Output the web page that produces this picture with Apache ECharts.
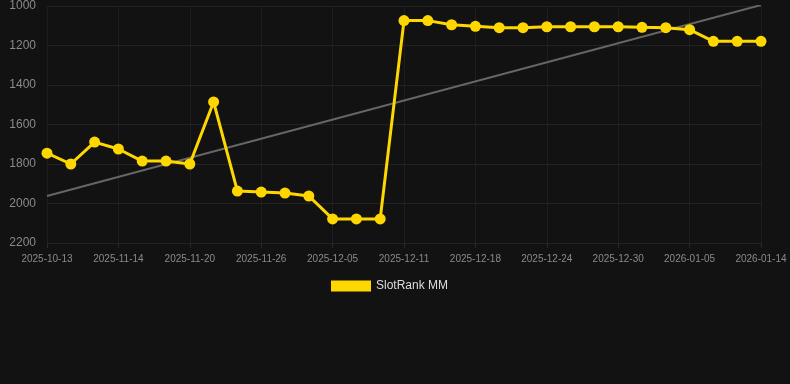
<!DOCTYPE html>
<html><head><meta charset="utf-8">
<script src="https://cdn.jsdelivr.net/npm/echarts@6/dist/echarts.min.js"></script>
<style>html,body{margin:0;padding:0;background:#121212;}#c{width:790px;height:384px;}</style>
</head><body><div id="c"></div>
<script>
const categories = ["2025-10-13","2025-10-16","2025-11-08","2025-11-14","2025-11-15","2025-11-17","2025-11-20","2025-11-21","2025-11-23","2025-11-26","2025-11-28","2025-12-02","2025-12-05","2025-12-06","2025-12-09","2025-12-11","2025-12-12","2025-12-15","2025-12-18","2025-12-20","2025-12-22","2025-12-24","2025-12-26","2025-12-28","2025-12-30","2026-01-01","2026-01-03","2026-01-05","2026-01-08","2026-01-11","2026-01-14"];
const rankValues = [1745,1800,1689,1724,1785,1785,1800,1486,1937,1942,1947,1962,2078,2078,2078,1074,1074,1095,1103,1110,1110,1105,1105,1105,1105,1108,1110,1120,1179,1179,1179];
const trendStart = 1962;
const trendEnd = 995;
const yTicks = [1000,1200,1400,1600,1800,2000,2200];

const trendData = categories.map((c,i)=> i===0 ? trendStart : (i===categories.length-1 ? trendEnd : null));

const chart = echarts.init(document.getElementById('c'), null, {renderer:'canvas'});
chart.setOption({
  backgroundColor:'#121212',
  animation:false,
  grid:{left:47,right:29,top:6,bottom:141,containLabel:false},
  legend:{
    data:[{name:'SlotRank MM',icon:'rect'}],
    top:275, left:326, itemWidth:40, itemHeight:11, itemGap:10,
    textStyle:{color:'#dddddd',fontSize:12,fontFamily:'Arial, Liberation Sans, sans-serif'}
  },
  xAxis:{
    type:'category', data:categories, boundaryGap:false,
    axisLine:{show:false},
    axisTick:{show:true,interval:2,length:5,lineStyle:{color:'#2a2a2a'}},
    axisLabel:{interval:2,color:'#8a8a8a',fontSize:10,margin:11,fontFamily:'Arial, Liberation Sans, sans-serif'},
    splitLine:{show:true,interval:2,lineStyle:{color:'#1e1e1e',width:1}}
  },
  yAxis:{
    type:'value', inverse:true, min:yTicks[0], max:yTicks[yTicks.length-1], interval:200,
    axisLine:{show:false}, axisTick:{show:false},
    axisLabel:{color:'#8a8a8a',fontSize:12,margin:11,fontFamily:'Arial, Liberation Sans, sans-serif',formatter:v=>String(v)},
    splitLine:{lineStyle:{color:'#222222',width:1}}
  },
  series:[
    {
      name:'trend', type:'line', data:trendData, connectNulls:true,
      symbol:'none', lineStyle:{color:'#666666',width:2}, z:1, silent:true
    },
    {
      name:'SlotRank MM', type:'line', data:rankValues,
      symbol:'circle', symbolSize:11,
      itemStyle:{color:'#FFD700'},
      lineStyle:{color:'#FFD700',width:3}, z:3
    }
  ]
});
</script></body></html>
